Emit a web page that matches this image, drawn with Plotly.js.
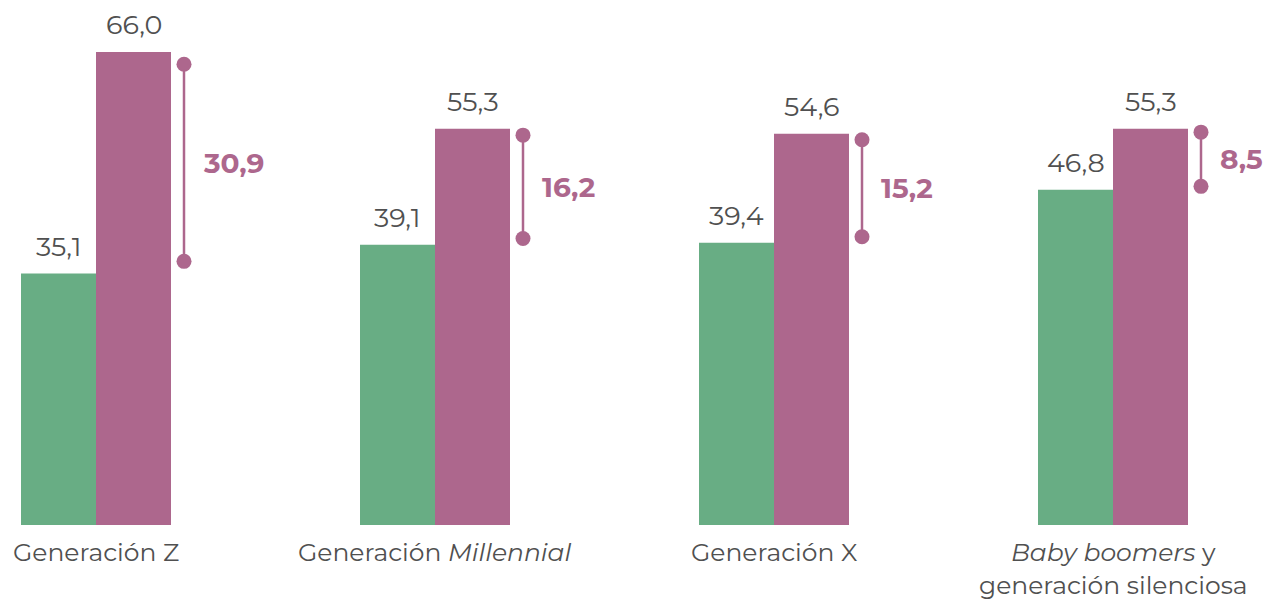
<!DOCTYPE html>
<html><head><meta charset="utf-8">
<script src="https://cdn.plot.ly/plotly-3.0.1.min.js"></script>
<style>html,body{margin:0;padding:0;background:#fff}#chart{width:1268px;height:603px}</style>
</head><body><div id="chart"></div>
<script>
const categories = ['Generación Z', 'Generación <i>Millennial</i>', 'Generación X', '<i>Baby boomers</i> y<br>generación silenciosa'];
const greenValues = [35.1, 39.1, 39.4, 46.8];
const purpleValues = [66.0, 55.3, 54.6, 55.3];
const diffLabels = ['30,9', '16,2', '15,2', '8,5'];

const GREEN = '#68AD84', PURPLE = '#AD678D', GRAY = '#505050';
const FONT = 'Montserrat, "Open Sans", sans-serif';
const fmt = v => v.toFixed(1).replace('.', ',');
const idx = categories.map((c, i) => i);

const traces = [
  {type: 'bar', x: idx, y: greenValues, marker: {color: GREEN}, hoverinfo: 'skip', cliponaxis: false},
  {type: 'bar', x: idx, y: purpleValues, marker: {color: PURPLE}, hoverinfo: 'skip', cliponaxis: false}
];
const lineOffset = 88 / 339;
categories.forEach((c, i) => {
  const mid = (greenValues[i] + purpleValues[i]) / 2;
  const half = (purpleValues[i] - greenValues[i]) * 0.445;
  traces.push({type: 'scatter', mode: 'lines+markers', x: [i + lineOffset, i + lineOffset],
    y: [mid + half, mid - half], line: {color: PURPLE, width: 2.5},
    marker: {color: PURPLE, size: 15}, hoverinfo: 'skip', cliponaxis: false});
});

const annotations = [];
categories.forEach((c, i) => {
  annotations.push({x: i, y: greenValues[i], xref: 'x', yref: 'y', xshift: -37.5, yshift: 9,
    text: fmt(greenValues[i]), showarrow: false, yanchor: 'bottom', font: {size: 27, color: GRAY, family: FONT}});
  annotations.push({x: i, y: purpleValues[i], xref: 'x', yref: 'y', xshift: 37.5, yshift: 9,
    text: fmt(purpleValues[i]), showarrow: false, yanchor: 'bottom', font: {size: 27, color: GRAY, family: FONT}});
  annotations.push({x: i, y: (greenValues[i] + purpleValues[i]) / 2, xref: 'x', yref: 'y', xshift: 105,
    text: '<b>' + diffLabels[i] + '</b>', showarrow: false, xanchor: 'left', yanchor: 'middle',
    font: {size: 28, color: PURPLE, family: FONT}});
  annotations.push({x: i, y: 0, xref: 'x', yref: 'y', yshift: -10, text: c, showarrow: false,
    xanchor: 'center', yanchor: 'top', align: 'center', font: {size: 25, color: GRAY, family: FONT}});
});

const xr = [-96 / 339, (1268 - 96) / 339];
const layout = {
  width: 1268, height: 603,
  margin: {l: 0, r: 0, t: 0, b: 78},
  paper_bgcolor: '#fff', plot_bgcolor: '#fff',
  showlegend: false,
  barmode: 'group', bargap: 1 - 150 / 339, bargroupgap: 0,
  xaxis: {type: 'linear', range: xr, showticklabels: false, showgrid: false, zeroline: false, showline: false, ticks: ''},
  yaxis: {range: [0, 525 / 7.165], showticklabels: false, showgrid: false, zeroline: false, showline: false, ticks: ''},
  annotations: annotations,
  font: {family: FONT}
};
Plotly.newPlot('chart', traces, layout, {staticPlot: true, displayModeBar: false});
</script></body></html>
